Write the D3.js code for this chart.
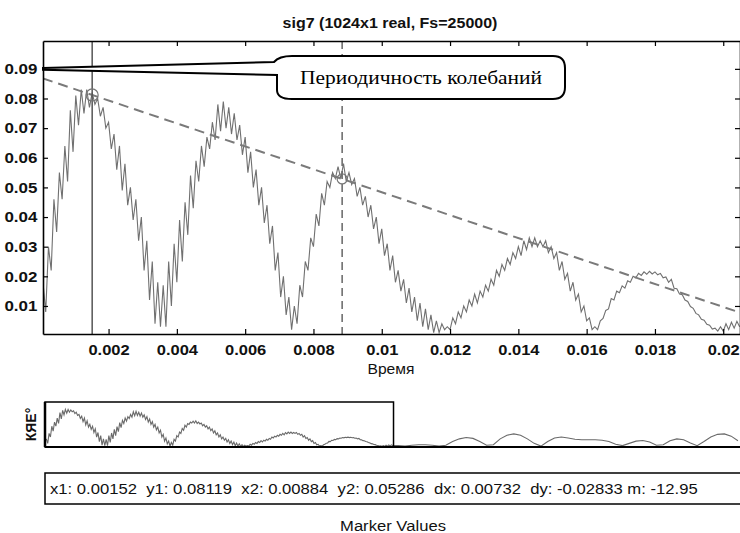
<!DOCTYPE html>
<html><head><meta charset="utf-8">
<script src="https://cdn.jsdelivr.net/npm/d3@7"></script>
<style>body{margin:0;background:#fff}svg{display:block}</style>
</head><body><svg id="c" width="740" height="533"></svg>
<script>
const Fs = 25000;
const titleText = "sig7 (1024x1 real, Fs=25000)";
const xLabelText = "Время";
const overviewLabel = "КЯЕ°";
const footerText = "Marker Values";
const calloutText = "Периодичность колебаний";
const xTicks = [0.002,0.004,0.006,0.008,0.010,0.012,0.014,0.016,0.018,0.020];
const xTickLabels = ["0.002","0.004","0.006","0.008","0.01","0.012","0.014","0.016","0.018","0.02"];
const yTicks = [0.01,0.02,0.03,0.04,0.05,0.06,0.07,0.08,0.09];
const yTickLabels = ["0.01","0.02","0.03","0.04","0.05","0.06","0.07","0.08","0.09"];
// signal samples, every 2nd sample (t = 0.00008 .. 0.02048 s)
const sigMain = [
0.018,0.008,0.030,0.022,0.046,0.035,0.055,0.046,0.064,0.052,
0.076,0.062,0.081,0.071,0.083,0.075,0.083,0.077,0.082,0.078,
0.080,0.074,0.077,0.070,0.072,0.063,0.068,0.056,0.064,0.049,
0.058,0.044,0.050,0.039,0.046,0.032,0.040,0.022,0.032,0.012,
0.025,0.004,0.018,0.003,0.017,0.003,0.025,0.010,0.031,0.018,
0.039,0.025,0.045,0.034,0.054,0.043,0.059,0.052,0.064,0.057,
0.067,0.063,0.072,0.066,0.078,0.069,0.079,0.070,0.077,0.068,
0.075,0.066,0.071,0.061,0.067,0.055,0.062,0.050,0.056,0.044,
0.050,0.038,0.044,0.031,0.037,0.022,0.028,0.013,0.020,0.007,
0.013,0.002,0.010,0.004,0.017,0.013,0.025,0.022,0.033,0.030,
0.041,0.037,0.048,0.044,0.052,0.050,0.055,0.053,0.057,0.053,
0.058,0.052,0.055,0.051,0.053,0.047,0.050,0.044,0.047,0.040,
0.044,0.036,0.040,0.031,0.036,0.027,0.031,0.022,0.027,0.018,
0.022,0.015,0.019,0.011,0.016,0.008,0.013,0.005,0.011,0.003,
0.009,0.002,0.007,0.001,0.005,0.001,0.004,0.002,0.003,0.002,
0.006,0.004,0.008,0.006,0.010,0.008,0.012,0.010,0.014,0.011,
0.015,0.013,0.017,0.015,0.019,0.017,0.022,0.020,0.024,0.022,
0.026,0.024,0.028,0.026,0.030,0.027,0.032,0.029,0.033,0.030,
0.033,0.030,0.032,0.030,0.032,0.028,0.030,0.026,0.028,0.022,
0.025,0.019,0.021,0.015,0.018,0.012,0.014,0.008,0.010,0.005,
0.006,0.002,0.003,0.002,0.0050,0.0058,0.0085,0.0090,0.0125,0.0120,
0.0150,0.0145,0.0168,0.0160,0.0185,0.0180,0.0200,0.0195,0.0210,0.0203,
0.0215,0.0207,0.0217,0.0208,0.0215,0.0205,0.0210,0.0195,0.0198,0.0180,
0.0190,0.0160,0.0158,0.0140,0.0138,0.0120,0.0115,0.0098,0.0092,0.0075,
0.0070,0.0055,0.0052,0.0038,0.0035,0.0022,0.0025,0.0015,0.0030,0.0015,
0.0040,0.0020,0.0045,0.0025,0.0048,0.0030];
// rest of the signal (overview only), every 0.4 ms from 0.0208 s
const sigTail = [
0.003,0.002,0.004,0.005,0.005,0.004,0.002,0.004,0.012,0.018,
0.021,0.019,0.012,0.004,0.005,0.018,0.026,0.029,0.026,0.018,
0.008,0.002,0.012,0.020,0.022,0.020,0.017,0.016,0.016,0.016,
0.015,0.012,0.006,0.003,0.008,0.013,0.0145,0.011,0.004,0.005,
0.014,0.018,0.016,0.009,0.003,0.012,0.022,0.028,0.029,0.024,0.014];
const markerX = [0.00152, 0.00884];
const markerY = [0.08119, 0.05286];
const markerText = "x1: 0.00152  y1: 0.08119  x2: 0.00884  y2: 0.05286  dx: 0.00732  dy: -0.02833 m: -12.95";

const FONT = "'Liberation Sans', Arial, sans-serif";
const SERIF = "'Liberation Serif','Times New Roman',serif";
const svg = d3.select("#c");
svg.append("rect").attr("width",740).attr("height",533).attr("fill","#fff");

// place a text and stretch it horizontally to a given width
function fitText(str, cx, cy, anchor, targetW, size, weight, family){
  const t = svg.append("text").attr("text-anchor",anchor).style("white-space","pre")
    .attr("font-family",family||FONT).attr("font-size",size).attr("font-weight",weight||"normal")
    .attr("fill","#111").text(str);
  const w = t.node().getComputedTextLength();
  t.attr("transform",`translate(${cx},${cy}) scale(${targetW/w},1)`);
  return t;
}

const mainT = sigMain.map((v,i)=>(i+1)*2/Fs);
const tailT = sigTail.map((v,k)=>0.0208 + k*0.0004);
const mainData = sigMain.map((v,i)=>[mainT[i], v]);
const tailData = sigTail.map((v,i)=>[tailT[i], v]);

const x = d3.scaleLinear().domain([0.00008, 0.02052]).range([43, 741]);
const y = d3.scaleLinear().domain([0.00054, 0.0994]).range([334, 41]);

svg.append("defs").append("clipPath").attr("id","clipMain")
  .append("rect").attr("x",43).attr("y",41).attr("width",698).attr("height",293);

// title
fitText(titleText, 390, 28, "middle", 215, 15, "bold");

const plot = svg.append("g").attr("clip-path","url(#clipMain)");

// signal
plot.append("path").datum(mainData)
  .attr("d", d3.line().x(d=>x(d[0])).y(d=>y(d[1])))
  .attr("fill","none").attr("stroke","#707070").attr("stroke-width",1.1);

// slope line through markers
const m = (markerY[1]-markerY[0])/(markerX[1]-markerX[0]);
const xd = x.domain();
const slopePts = xd.map(t=>[t, markerY[0] + m*(t-markerX[0])]);
plot.append("path").datum(slopePts)
  .attr("d", d3.line().x(d=>x(d[0])).y(d=>y(d[1])))
  .attr("fill","none").attr("stroke","#7a7a7a").attr("stroke-width",2).attr("stroke-dasharray","10,6");

// marker lines
plot.append("line").attr("x1",x(markerX[0])).attr("x2",x(markerX[0]))
  .attr("y1",y.range()[1]).attr("y2",y.range()[0]).attr("stroke","#555").attr("stroke-width",1.5);
plot.append("line").attr("x1",x(markerX[1])).attr("x2",x(markerX[1]))
  .attr("y1",y.range()[1]).attr("y2",y.range()[0]).attr("stroke","#666").attr("stroke-width",1.5)
  .attr("stroke-dasharray","8,5");
plot.append("circle").attr("cx",x(markerX[0])).attr("cy",y(markerY[0])).attr("r",6)
  .attr("fill","none").attr("stroke","#777").attr("stroke-width",1.2);
plot.append("circle").attr("cx",x(markerX[1])).attr("cy",y(markerY[1])).attr("r",5)
  .attr("fill","none").attr("stroke","#777").attr("stroke-width",1.2);

// axes
function styleAxis(g){
  g.select(".domain").attr("stroke","#000").attr("stroke-width",1.6);
  g.selectAll(".tick line").attr("stroke","#000").attr("stroke-width",1.2);
  g.selectAll(".tick text").attr("font-family",FONT).attr("font-size",15).attr("font-weight","bold")
    .attr("fill","#111");
}
const gx = svg.append("g").attr("transform",`translate(0,${y.range()[0]})`)
  .call(d3.axisBottom(x).tickValues(xTicks).tickFormat((d,i)=>xTickLabels[i]).tickSize(-5).tickSizeOuter(0).tickPadding(10))
  .call(styleAxis);
gx.selectAll(".tick text").attr("transform","scale(1.1,1)");
svg.append("g").attr("transform",`translate(0,${y.range()[1]})`)
  .call(d3.axisTop(x).tickValues(xTicks).tickFormat("").tickSize(-5).tickSizeOuter(0))
  .call(styleAxis);
const gy = svg.append("g").attr("transform",`translate(${x.range()[0]},0)`)
  .call(d3.axisLeft(y).tickValues(yTicks).tickFormat((d,i)=>yTickLabels[i]).tickSize(-5).tickSizeOuter(0).tickPadding(5))
  .call(styleAxis);
gy.selectAll(".tick text").attr("transform","scale(1.13,1)");
svg.append("g").attr("transform",`translate(${x.range()[1]-1},0)`)
  .call(d3.axisRight(y).tickValues(yTicks).tickFormat("").tickSize(-5).tickSizeOuter(0))
  .call(styleAxis);

// x label
fitText(xLabelText, 391, 374, "middle", 47, 14, "normal");

// callout
const ax = x.range()[0], ay = y(0.09);
const callout = "M"+ax+","+(ay-0.8)+" L274,62 Q279,56 292,56 L553,56 Q565,56 565,68 L565,87 Q565,99 553,99 L292,99 Q277,99 277,90 L277,75 L"+ax+","+(ay+0.8)+" Z";
svg.append("path").attr("d",callout).attr("fill","#fff").attr("stroke","#000").attr("stroke-width",2);
fitText(calloutText, 421, 84, "middle", 242, 19.5, "normal", SERIF).attr("fill","#000");

// overview
const ox = d3.scaleLinear().domain([0, 1023/Fs]).range([45, 740]);
const oy = d3.scaleLinear().domain([0, 0.0995]).range([447, 402]);
svg.append("path").datum(mainData.concat(tailData))
  .attr("d", d3.line().x(d=>ox(d[0])).y(d=>oy(d[1])))
  .attr("fill","none").attr("stroke","#6a6a6a").attr("stroke-width",1.1);
svg.append("rect").attr("x",ox(0)).attr("y",oy.range()[1])
  .attr("width",ox(x.domain()[1])-ox(0)).attr("height",oy.range()[0]-oy.range()[1])
  .attr("fill","none").attr("stroke","#000").attr("stroke-width",1.5);
svg.append("line").attr("x1",ox.range()[0]).attr("x2",ox.range()[1]+2)
  .attr("y1",oy.range()[0]).attr("y2",oy.range()[0]).attr("stroke","#000").attr("stroke-width",2);
svg.append("line").attr("x1",ox.range()[0]).attr("x2",ox.range()[0])
  .attr("y1",oy.range()[1]).attr("y2",oy.range()[0]).attr("stroke","#000").attr("stroke-width",2.5);
svg.append("text").attr("transform",`translate(36,${(oy.range()[0]+oy.range()[1])/2}) rotate(-90)`)
  .attr("text-anchor","middle").attr("font-family",FONT).attr("font-size",14).attr("font-weight","bold")
  .attr("fill","#111").text(overviewLabel);

// marker values box
svg.append("rect").attr("x",45).attr("y",473).attr("width",700).attr("height",31)
  .attr("fill","none").attr("stroke","#000").attr("stroke-width",1.5);
fitText(markerText, 50, 494, "start", 648, 15, "normal");
fitText(footerText, 393, 531, "middle", 106, 15, "normal");
</script></body></html>
